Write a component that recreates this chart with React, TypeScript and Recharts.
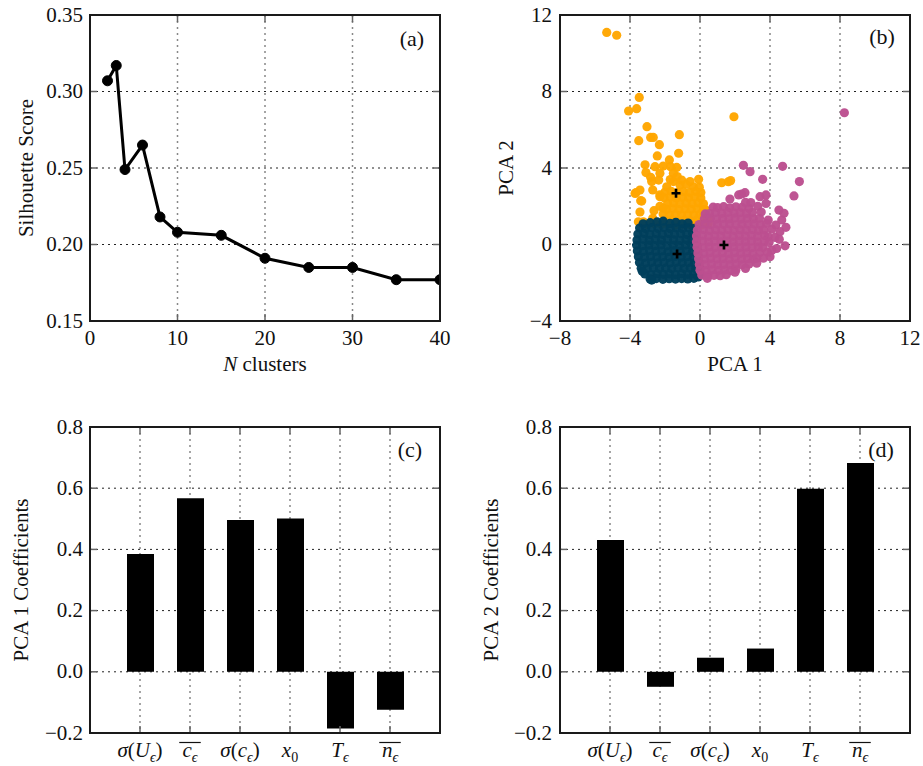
import React from 'react';
import {
  LineChart, Line, BarChart, Bar, ScatterChart, Scatter,
  XAxis, YAxis, CartesianGrid,
} from 'recharts';

// ---------------- DATA ----------------
const nClusters = [2, 3, 4, 6, 8, 10, 15, 20, 25, 30, 35, 40];
const silhouette = [0.307, 0.317, 0.249, 0.265, 0.218, 0.208, 0.206, 0.191, 0.185, 0.185, 0.177, 0.177];
const xTicksA = [0, 10, 20, 30, 40];
const yTicksA = [0.15, 0.2, 0.25, 0.3, 0.35];

const featureLabels = ['σ(U_ϵ)', '\\overline{c_ϵ}', 'σ(c_ϵ)', 'x_0', 'T_ϵ', '\\overline{n_ϵ}'];
const pca1Coeffs = [0.385, 0.567, 0.496, 0.501, -0.185, -0.124];
const pca2Coeffs = [0.431, -0.049, 0.046, 0.076, 0.598, 0.682];
const yTicksBar = [-0.2, 0, 0.2, 0.4, 0.6, 0.8];

const xTicksB = [-8, -4, 0, 4, 8, 12];
const yTicksB = [-4, 0, 4, 8, 12];

const orangePts: number[][] = [
  [-5.33, 11.09], [-4.76, 10.94], [-3.47, 7.69], [-3.62, 7.1], [-4.08, 6.98], [1.94, 6.68], [-3.03, 6.16],
  [-2.82, 5.6], [-2.67, 5.6], [-3.5, 5.43], [-1.18, 5.74], [-2.32, 5.22], [-2.44, 4.63], [-1.22, 4.77],
  [-1.75, 4.42], [-3.14, 4.17], [-2.57, 4.07], [-2.1, 4.1], [-1.68, 4.07], [-1.33, 4.03], [-3.09, 3.76],
  [-2.82, 3.51], [-2.29, 3.72], [-1.52, 3.72], [-1.05, 3.37], [-0.57, 3.29], [-0.08, 3.41], [1.24, 3.23],
  [1.62, 3.28], [1.75, 3.34],
  [-3.66, 2.71], [-3.43, 2.85], [-3.33, 2.27], [-2.7, 2.85], [-2.29, 2.5], [-1.9, 3.02], [-3.43, 1.7],
  [-3.52, 1.19], [-3.24, 1.19], [-2.63, 1.77], [-2.7, 1.37], [-2.1, 1.89], [-2.36, 3.37], [-2.76, 3.29],
  [-1.52, 3.29], [-1.14, 3.11], [-0.38, 3.02], [-0.04, 3.0], [0.19, 1.45], [0.48, 1.37], [0.33, 1.8],
  [-3.71, 2.67], [-3.39, 2.29], [-2.67, 1.28], [-2.29, 2.0], [-2.29, 2.6], [-2.11, 1.6],
  [-1.7, 3.4], [-1.3, 3.55], [-0.8, 3.15],
  [-2.0, 2.74], [-1.65, 2.78], [-1.3, 2.72], [-0.95, 2.76], [-0.6, 2.73], [-0.25, 2.77], [0.05, 2.72],
  [-2.05, 2.44], [-1.7, 2.47], [-1.35, 2.43], [-1.0, 2.46], [-0.65, 2.44], [-0.3, 2.47], [0.05, 2.43],
  [-1.85, 2.14], [-1.5, 2.17], [-1.15, 2.13], [-0.8, 2.16], [-0.45, 2.14], [-0.1, 2.17], [0.2, 2.13],
  [-1.9, 1.84], [-1.55, 1.87], [-1.2, 1.83], [-0.85, 1.86], [-0.5, 1.84], [-0.15, 1.87], [0.2, 1.83],
  [-1.75, 1.54], [-1.4, 1.57], [-1.05, 1.53], [-0.7, 1.56], [-0.35, 1.54], [0.0, 1.57], [0.35, 1.53],
  [-1.95, 1.24], [-1.6, 1.27], [-1.25, 1.23], [-0.9, 1.26], [-0.55, 1.24], [-0.2, 1.27], [0.15, 1.23], [0.5, 1.26],
  [-3.0, 1.05], [-2.6, 1.08], [-2.2, 1.04], [-1.8, 1.07], [-1.4, 1.03], [-1.0, 1.06], [-0.6, 1.04],
  [-0.25, 1.07], [0.1, 1.03], [0.45, 1.06],
];

const navyPts: number[][] = [
  [-3.25, 1.08], [-2.85, 1.14], [-2.45, 1.18], [-2.1, 1.22], [-1.72, 1.1], [-1.38, 1.16], [-1.02, 1.08], [-0.68, 1.12],
  [-3.45, 0.86], [-3.1, 0.82], [-2.76, 0.88], [-2.4, 0.84], [-2.05, 0.87], [-1.7, 0.83], [-1.35, 0.86], [-1.0, 0.82], [-0.66, 0.87], [-0.34, 0.84],
  [-3.55, 0.55], [-3.2, 0.58], [-2.86, 0.52], [-2.5, 0.56], [-2.15, 0.53], [-1.8, 0.57], [-1.45, 0.54], [-1.1, 0.56], [-0.76, 0.52], [-0.42, 0.57], [-0.22, 0.5],
  [-3.6, 0.24], [-3.25, 0.27], [-2.9, 0.22], [-2.55, 0.26], [-2.2, 0.23], [-1.85, 0.27], [-1.5, 0.24], [-1.15, 0.22], [-0.8, 0.26], [-0.46, 0.23], [-0.18, 0.27],
  [-3.62, -0.04], [-3.27, -0.07], [-2.92, -0.03], [-2.57, -0.06], [-2.22, -0.02], [-1.87, -0.07], [-1.52, -0.04], [-1.17, -0.06], [-0.82, -0.03], [-0.47, -0.07], [-0.15, -0.04],
  [-3.58, -0.34], [-3.23, -0.37], [-2.88, -0.33], [-2.53, -0.36], [-2.18, -0.34], [-1.83, -0.38], [-1.48, -0.33], [-1.13, -0.36], [-0.78, -0.34], [-0.43, -0.37], [-0.12, -0.33],
  [-3.52, -0.64], [-3.17, -0.67], [-2.82, -0.63], [-2.47, -0.66], [-2.12, -0.64], [-1.77, -0.67], [-1.42, -0.63], [-1.07, -0.66], [-0.72, -0.64], [-0.38, -0.67], [-0.08, -0.63],
  [-3.46, -0.94], [-3.11, -0.97], [-2.76, -0.93], [-2.41, -0.96], [-2.06, -0.94], [-1.71, -0.97], [-1.36, -0.93], [-1.01, -0.96], [-0.66, -0.94], [-0.32, -0.97], [-0.04, -0.93],
  [-3.36, -1.24], [-3.01, -1.27], [-2.66, -1.23], [-2.31, -1.26], [-1.96, -1.24], [-1.61, -1.27], [-1.26, -1.23], [-0.91, -1.26], [-0.56, -1.24], [-0.24, -1.27], [0.0, -1.23],
  [-3.15, -1.54], [-2.8, -1.57], [-2.45, -1.53], [-2.1, -1.56], [-1.75, -1.54], [-1.4, -1.57], [-1.05, -1.53], [-0.7, -1.56], [-0.36, -1.54], [-0.02, -1.57],
  [-2.85, -1.8], [-2.5, -1.78], [-2.12, -1.82], [-1.76, -1.79], [-1.4, -1.81], [-1.05, -1.78], [-0.7, -1.8], [-0.35, -1.77],
  [-2.76, -1.86], [-3.3, -1.4], [-0.1, -1.7],
];

const magentaPts: number[][] = [
  [0.75, 1.95], [1.0, 1.93], [1.35, 1.98], [1.7, 1.92], [2.05, 1.97], [2.4, 1.94], [2.8, 1.9],
  [0.3, 1.6], [0.55, 1.62], [0.9, 1.67], [1.25, 1.63], [1.6, 1.68], [1.95, 1.64], [2.3, 1.66], [2.65, 1.62], [3.0, 1.67],
  [0.25, 1.34], [0.6, 1.37], [0.95, 1.33], [1.3, 1.36], [1.65, 1.34], [2.0, 1.38], [2.35, 1.33], [2.7, 1.36], [3.05, 1.34], [3.4, 1.37],
  [-0.05, 1.04], [0.3, 1.07], [0.65, 1.03], [1.0, 1.06], [1.35, 1.04], [1.7, 1.07], [2.05, 1.03], [2.4, 1.06], [2.75, 1.04], [3.1, 1.07], [3.45, 1.03], [3.8, 1.1],
  [-0.15, 0.74], [0.2, 0.77], [0.55, 0.73], [0.9, 0.76], [1.25, 0.74], [1.6, 0.77], [1.95, 0.73], [2.3, 0.76], [2.65, 0.74], [3.0, 0.77], [3.35, 0.73], [3.65, 0.76],
  [-0.2, 0.44], [0.15, 0.47], [0.5, 0.43], [0.85, 0.46], [1.2, 0.44], [1.55, 0.47], [1.9, 0.43], [2.25, 0.46], [2.6, 0.44], [2.95, 0.47], [3.3, 0.43], [3.7, 0.46], [3.9, 0.4],
  [-0.2, 0.14], [0.15, 0.17], [0.5, 0.13], [0.85, 0.16], [1.2, 0.14], [1.55, 0.17], [1.9, 0.13], [2.25, 0.16], [2.6, 0.14], [2.95, 0.17], [3.3, 0.13], [3.68, 0.16],
  [-0.17, -0.14], [0.18, -0.17], [0.53, -0.13], [0.88, -0.16], [1.23, -0.14], [1.58, -0.17], [1.93, -0.13], [2.28, -0.16], [2.63, -0.14], [2.98, -0.17], [3.33, -0.13], [3.6, -0.16],
  [-0.12, -0.44], [0.23, -0.47], [0.58, -0.43], [0.93, -0.46], [1.28, -0.44], [1.63, -0.47], [1.98, -0.43], [2.33, -0.46], [2.68, -0.44], [3.03, -0.47], [3.42, -0.43], [3.85, -0.4],
  [-0.08, -0.74], [0.27, -0.77], [0.62, -0.73], [0.97, -0.76], [1.32, -0.74], [1.67, -0.77], [2.02, -0.73], [2.37, -0.76], [2.72, -0.74], [3.05, -0.77], [3.25, -0.72],
  [-0.04, -1.04], [0.31, -1.07], [0.66, -1.03], [1.01, -1.06], [1.36, -1.04], [1.71, -1.07], [2.06, -1.03], [2.41, -1.06], [2.8, -1.02],
  [0.0, -1.34], [0.35, -1.37], [0.7, -1.33], [1.05, -1.36], [1.4, -1.34], [1.75, -1.37], [2.05, -1.32], [2.6, -1.25],
  [0.1, -1.6], [0.45, -1.64], [0.8, -1.61], [1.15, -1.63], [1.5, -1.58], [0.42, -1.77],
  [8.25, 6.89], [2.48, 4.14], [4.72, 4.09], [2.86, 3.81], [5.68, 3.29], [3.58, 3.41], [5.37, 2.54],
  [2.21, 2.59], [2.38, 2.64], [2.57, 2.71], [3.43, 2.5], [3.77, 2.59], [1.71, 2.38], [2.9, 2.19],
  [3.77, 2.15], [4.51, 1.8], [4.8, 1.63], [3.9, 1.28], [4.67, 1.28], [4.33, 1.02], [4.91, 0.9],
  [4.57, 0.67], [4.29, 0.37], [4.53, 0.27], [4.86, -0.07], [4.38, -0.21], [4.1, -0.31], [4.0, -0.64],
  [3.62, -0.72], [3.24, -0.98], [2.0, -1.45], [3.5, 1.7], [3.3, 2.0], [2.6, 2.2], [4.1, 0.8], [3.95, 0.1],
];

const centroidPts: number[][] = [[-1.37, 2.68], [-1.31, -0.5], [1.37, -0.03]];

// ---------------- STYLE ----------------
const FONT = '"Liberation Serif", "DejaVu Serif", serif';
const FS = 21;
const TXT = '#111';
const TICK = '#666';
const ORANGE = '#ffa600';
const NAVY = '#003f5c';
const MAGENTA = '#bc5090';

const lineData = nClusters.map((n, i) => ({ n, s: silhouette[i] }));
const barData1 = featureLabels.map((name, i) => ({ name, v: pca1Coeffs[i] }));
const barData2 = featureLabels.map((name, i) => ({ name, v: pca2Coeffs[i] }));
const toXY = (a: number[][]) => a.map(([x, y]) => ({ x, y }));

const fmtNum = (v: number, d: number) => {
  const s = Math.abs(v).toFixed(d);
  return v < -1e-9 ? '\u2212' + s : s;
};

function MathText({ x, y, tex }: { x: number; y: number; tex: string }) {
  let s = tex;
  let over = false;
  if (s.startsWith('\\overline{')) {
    over = true;
    s = s.slice(10, -1);
  }
  const parts: { ch: string; sub: boolean }[] = [];
  for (let i = 0; i < s.length; i++) {
    if (s[i] === '_') {
      parts.push({ ch: s[i + 1], sub: true });
      i++;
    } else parts.push({ ch: s[i], sub: false });
  }
  const subSize = 14;
  let prevSub = false;
  const spans = parts.map((p, i) => {
    const italic = /[A-Za-zσϵ]/.test(p.ch);
    let dy = 0;
    if (p.sub && !prevSub) dy = 5;
    else if (!p.sub && prevSub) dy = -5;
    prevSub = p.sub;
    return (
      <tspan key={i} dy={dy} fontSize={p.sub ? subSize : FS} fontStyle={italic ? 'italic' : 'normal'}>
        {p.ch}
      </tspan>
    );
  });
  const w = parts.reduce((a, p) => a + (p.sub ? subSize : FS) * 0.5, 0) + 4;
  return (
    <g>
      <text x={x} y={y} textAnchor="middle" fontFamily={FONT} fontSize={FS} fill={TXT}>
        {spans}
      </text>
      {over && <line x1={x - w / 2} x2={x + w / 2} y1={y - 14.5} y2={y - 14.5} stroke={TXT} strokeWidth={1.2} />}
    </g>
  );
}

// tick factories (inward ticks on all four sides, like the classic style)
const makeXTick = (plotTop: number, plotBottom: number, label: (v: any) => any, math = false) => (props: any) => {
  const { x, payload } = props;
  return (
    <g>
      <line x1={x} x2={x} y1={plotBottom} y2={plotBottom - 7} stroke={TICK} strokeWidth={1.5} />
      <line x1={x} x2={x} y1={plotTop} y2={plotTop + 7} stroke={TICK} strokeWidth={1.5} />
      {math ? (
        <MathText x={x} y={plotBottom + 24} tex={String(payload.value)} />
      ) : (
        <text x={x} y={plotBottom + 24} textAnchor="middle" fontFamily={FONT} fontSize={FS} fill={TXT}>
          {label(payload.value)}
        </text>
      )}
    </g>
  );
};

const makeYTick = (plotLeft: number, plotRight: number, labelRight: number, label: (v: any) => any) => (props: any) => {
  const { y, payload } = props;
  return (
    <g>
      <line x1={plotLeft} x2={plotLeft + 7} y1={y} y2={y} stroke={TICK} strokeWidth={1.5} />
      <line x1={plotRight} x2={plotRight - 7} y1={y} y2={y} stroke={TICK} strokeWidth={1.5} />
      <text x={labelRight} y={y + 6.5} textAnchor="end" fontFamily={FONT} fontSize={FS} fill={TXT}>
        {label(payload.value)}
      </text>
    </g>
  );
};

const dotShape = (color: string) => (p: any) => (
  <circle cx={p.cx} cy={p.cy} r={4.6} fill={color} fillOpacity={0.97} />
);
const plusShape = (p: any) => (
  <path d={`M${p.cx - 4.5},${p.cy}h9M${p.cx},${p.cy - 4.5}v9`} stroke="#000" strokeWidth={2.6} fill="none" />
);

const PW = 350;
const PH = 306;

export default function App() {
  // panel geometry (chart-local)
  const A = { left: 90, top: 15, w: 460, h: 380 };
  const B = { left: 100, top: 15, w: 463, h: 380 };
  const C = { left: 90, top: 47, w: 460, h: 386 };
  const D = { left: 100, top: 47, w: 463, h: 386 };

  const hGrid = { vertical: false, stroke: '#222', strokeDasharray: '2 4', strokeWidth: 1 } as any;
  const vGrid = { horizontal: false, stroke: '#888', strokeDasharray: '2 4', strokeWidth: 1.5 } as any;

  const frames = [
    { x: 90, y: 15 }, { x: 560, y: 15 }, { x: 90, y: 427 }, { x: 560, y: 427 },
  ];

  return (
    <div style={{ position: 'absolute', left: 0, top: 0, width: 923, height: 766, background: '#fff' }}>
      {/* (a) */}
      <div style={{ position: 'absolute', left: 0, top: 0 }}>
        <LineChart width={A.w} height={A.h} data={lineData}
          margin={{ top: A.top, right: A.w - A.left - PW, bottom: 0, left: 0 }}>
          <CartesianGrid {...hGrid} />
          <CartesianGrid {...vGrid} />
          <XAxis type="number" dataKey="n" domain={[0, 40]} ticks={xTicksA} allowDataOverflow interval={0}
            height={A.h - A.top - PH} axisLine={false} tickLine={false} tickSize={0} tickMargin={0}
            tick={makeXTick(A.top, A.top + PH, (v) => String(v))} />
          <YAxis type="number" domain={[0.15, 0.35]} ticks={yTicksA} allowDataOverflow interval={0}
            width={A.left} axisLine={false} tickLine={false} tickSize={0} tickMargin={0}
            tick={makeYTick(A.left, A.left + PW, 83, (v) => fmtNum(v, 2))} />
          <Line type="linear" dataKey="s" stroke="#000" strokeWidth={3}
            dot={{ r: 5, fill: '#000', stroke: '#000', strokeWidth: 1 }} activeDot={false}
            isAnimationActive={false} />
        </LineChart>
      </div>

      {/* (b) */}
      <div style={{ position: 'absolute', left: 460, top: 0 }}>
        <ScatterChart width={B.w} height={B.h}
          margin={{ top: B.top, right: B.w - B.left - PW, bottom: 0, left: 0 }}>
          <CartesianGrid {...hGrid} />
          <CartesianGrid {...vGrid} />
          <XAxis type="number" dataKey="x" domain={[-8, 12]} ticks={xTicksB} allowDataOverflow interval={0}
            height={B.h - B.top - PH} axisLine={false} tickLine={false} tickSize={0} tickMargin={0}
            tick={makeXTick(B.top, B.top + PH, (v) => fmtNum(v, 0))} />
          <YAxis type="number" dataKey="y" domain={[-4, 12]} ticks={yTicksB} allowDataOverflow interval={0}
            width={B.left} axisLine={false} tickLine={false} tickSize={0} tickMargin={0}
            tick={makeYTick(B.left, B.left + PW, 92, (v) => fmtNum(v, 0))} />
          <Scatter data={toXY(orangePts)} shape={dotShape(ORANGE)} isAnimationActive={false} />
          <Scatter data={toXY(navyPts)} shape={dotShape(NAVY)} isAnimationActive={false} />
          <Scatter data={toXY(magentaPts)} shape={dotShape(MAGENTA)} isAnimationActive={false} />
          <Scatter data={toXY(centroidPts)} shape={plusShape} isAnimationActive={false} />
        </ScatterChart>
      </div>

      {/* (c) */}
      <div style={{ position: 'absolute', left: 0, top: 380 }}>
        <BarChart width={C.w} height={C.h} data={barData1}
          margin={{ top: C.top, right: C.w - C.left - PW, bottom: 0, left: 0 }}>
          <CartesianGrid {...hGrid} />
          <CartesianGrid {...vGrid} />
          <XAxis dataKey="name" type="category" padding={{ left: 25, right: 25 }} interval={0}
            height={C.h - C.top - PH} axisLine={false} tickLine={false} tickSize={0} tickMargin={0}
            tick={makeXTick(C.top, C.top + PH, (v) => v, true)} />
          <YAxis type="number" domain={[-0.2, 0.8]} ticks={yTicksBar} allowDataOverflow interval={0}
            width={C.left} axisLine={false} tickLine={false} tickSize={0} tickMargin={0}
            tick={makeYTick(C.left, C.left + PW, 83, (v) => fmtNum(v, 1))} />
          <Bar dataKey="v" fill="#000" barSize={27} isAnimationActive={false} />
        </BarChart>
      </div>

      {/* (d) */}
      <div style={{ position: 'absolute', left: 460, top: 380 }}>
        <BarChart width={D.w} height={D.h} data={barData2}
          margin={{ top: D.top, right: D.w - D.left - PW, bottom: 0, left: 0 }}>
          <CartesianGrid {...hGrid} />
          <CartesianGrid {...vGrid} />
          <XAxis dataKey="name" type="category" padding={{ left: 25, right: 25 }} interval={0}
            height={D.h - D.top - PH} axisLine={false} tickLine={false} tickSize={0} tickMargin={0}
            tick={makeXTick(D.top, D.top + PH, (v) => v, true)} />
          <YAxis type="number" domain={[-0.2, 0.8]} ticks={yTicksBar} allowDataOverflow interval={0}
            width={D.left} axisLine={false} tickLine={false} tickSize={0} tickMargin={0}
            tick={makeYTick(D.left, D.left + PW, 92, (v) => fmtNum(v, 1))} />
          <Bar dataKey="v" fill="#000" barSize={27} isAnimationActive={false} />
        </BarChart>
      </div>

      {/* frames, axis titles and panel letters */}
      <svg width={923} height={766} style={{ position: 'absolute', left: 0, top: 0, pointerEvents: 'none' }}>
        {frames.map((f, i) => (
          <rect key={i} x={f.x} y={f.y} width={PW} height={PH} fill="none" stroke="#1a1a1a" strokeWidth={2} />
        ))}
        <g fontFamily={FONT} fontSize={FS} fill={TXT}>
          <text transform="translate(33,168) rotate(-90)" textAnchor="middle">Silhouette Score</text>
          <text x={265} y={371} textAnchor="middle"><tspan fontStyle="italic">N</tspan> clusters</text>
          <text transform="translate(513,168) rotate(-90)" textAnchor="middle">PCA 2</text>
          <text x={735} y={371} textAnchor="middle">PCA 1</text>
          <text transform="translate(28,580) rotate(-90)" textAnchor="middle">PCA 1 Coefficients</text>
          <text transform="translate(498,580) rotate(-90)" textAnchor="middle">PCA 2 Coefficients</text>
          <text x={412} y={46} textAnchor="middle" fontSize={22}>(a)</text>
          <text x={882} y={44} textAnchor="middle" fontSize={22}>(b)</text>
          <text x={410} y={457} textAnchor="middle" fontSize={22}>(c)</text>
          <text x={881} y={457} textAnchor="middle" fontSize={22}>(d)</text>
        </g>
      </svg>
    </div>
  );
}
